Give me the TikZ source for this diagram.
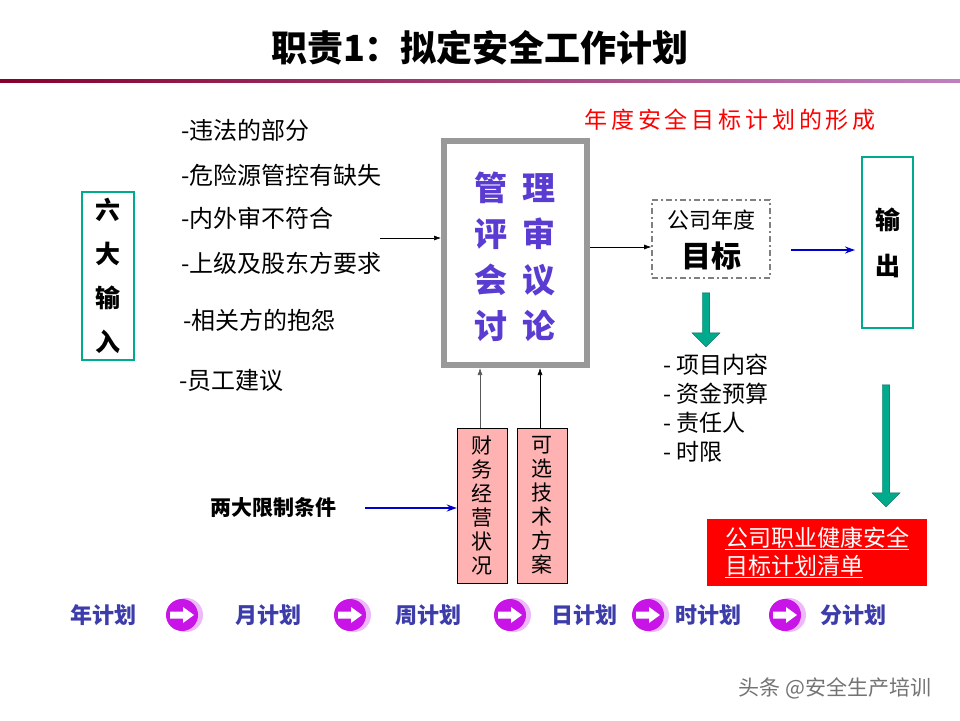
\documentclass[tikz,border=0pt]{standalone}
\usepackage{fontspec}
\setmainfont{Liberation Sans}
\newfontfamily\cjk{Noto Sans CJK SC}
\usetikzlibrary{arrows.meta,shapes.arrows}
\definecolor{teal1}{RGB}{0,170,140}
\definecolor{purp}{RGB}{90,60,210}
\definecolor{planblue}{RGB}{60,60,170}
\definecolor{mag}{RGB}{200,20,230}
\tikzset{
 item/.style={anchor=west,font=\cjk\fontsize{24}{26}\selectfont},
 big/.style={font=\cjk\bfseries\fontsize{33}{36}\selectfont,text=purp},
 plan/.style={font=\cjk\bfseries\fontsize{22}{24}\selectfont,text=planblue},
 thin/.style={-{Latex[length=7pt,width=5pt]},line width=0.6pt},
 bluearr/.style={-{Stealth[length=10pt,width=7pt]},draw=blue!80!black,line width=2pt},
}
\newcommand{\circarrow}[2]{%
 \fill[mag!30] (#1+4,#2) circle (17);
 \fill[mag] (#1,#2) circle (16);
 \fill[white] (#1-12,#2-3.5) -- (#1+1,#2-3.5) -- (#1+1,#2-8) -- (#1+12,#2) -- (#1+1,#2+8) -- (#1+1,#2+3.5) -- (#1-12,#2+3.5) -- cycle;}
\begin{document}
\begin{tikzpicture}[x=1pt,y=-1pt]
\useasboundingbox (0,0) rectangle (960,720);
\fill[white] (0,0) rectangle (960,720);
\node[font=\cjk\bfseries\fontsize{36}{38}\selectfont] (title) at (480,48) {职责1：拟定安全工作计划};
\shade[left color=purple!70!black,right color=violet!50] (0,79) rectangle (960,82);
% left box
\node[draw=teal1,line width=2pt,minimum width=52pt,minimum height=168pt,inner sep=0pt,font=\cjk\bfseries\fontsize{25}{44}\selectfont,align=center] (six) at (108,276) {六\\大\\输\\入};
\node[item] (i1) at (178,130) {-违法的部分};
\node[item] (i2) at (178,175) {-危险源管控有缺失};
\node[item] (i3) at (178,218) {-内外审不符合};
\node[item] (i4) at (178,263) {-上级及股东方要求};
\node[item] (i5) at (180,320) {-相关方的抱怨};
\node[item] (i6) at (176,380) {-员工建议};
\coordinate (inS) at (380,238);
% main box
\node[draw=gray!80,line width=6pt,minimum width=143pt,minimum height=224pt] (main) at (515.5,253) {};
\node[big] at (491,188) {管}; \node[big] at (539,188) {理};
\node[big] at (491,234) {评}; \node[big] at (539,234) {审};
\node[big] at (491,280) {会}; \node[big] at (539,280) {议};
\node[big] at (491,326) {讨}; \node[big] at (539,326) {论};
\draw[thin] (inS) -- (main.west |- inS);
% target
\node[draw=gray,dash pattern=on 6pt off 3pt on 2pt off 3pt,line width=1.6pt,minimum width=118pt,minimum height=78pt,inner sep=0pt] (goal) at (711,239) {};
\node[font=\cjk\fontsize{22}{24}\selectfont] (g1) at (711,220) {公司年度};
\node[font=\cjk\bfseries\fontsize{30}{32}\selectfont] (g2) at (711,256) {目标};
\draw[thin] (main.east |- 0,247) -- (goal.west |- 0,247);
\node[text=red,font=\cjk\fontsize{23}{25}\selectfont] (rt) at (730,120) {年\,度\,安\,全\,目\,标\,计\,划\,的\,形\,成};
\node[draw=teal1,line width=2pt,minimum width=51pt,minimum height=171pt,inner sep=0pt,font=\cjk\bfseries\fontsize{25}{46}\selectfont,align=center] (out) at (887.5,242.5) {输\\出};
\draw[bluearr] (goal.east |- 0,250) ++(20,0) -- ([xshift=-6pt]out.west |- 0,250);
\node[single arrow,draw=teal1!60!black,fill=teal1,rotate=-90,minimum height=54pt,minimum width=28pt,single arrow head extend=6pt,inner sep=2pt] (ga) at (706,318) {};
\node[anchor=west,font=\cjk\fontsize{23}{29}\selectfont,align=left] (list) at (660,408) {- 项目内容\\- 资金预算\\- 责任人\\- 时限};
\node[single arrow,draw=teal1!60!black,fill=teal1,rotate=-90,minimum height=122pt,minimum width=28pt,single arrow head extend=6pt,inner sep=2pt] (ga2) at (886,444) {};
\node[fill=red,minimum width=220pt,minimum height=67pt,text=white,font=\cjk\fontsize{23}{28}\selectfont,align=left] (red) at (817,552.5) {\underline{公司职业健康安全}\\\underline{目标计划清单}};
% limit boxes
\node[draw,fill=red!30,minimum width=50pt,minimum height=155pt,inner sep=0pt,font=\cjk\fontsize{21}{24}\selectfont,align=center] (f1) at (482,505.5) {财\\务\\经\\营\\状\\况};
\node[draw,fill=red!30,minimum width=50pt,minimum height=155pt,inner sep=0pt,font=\cjk\fontsize{21}{24}\selectfont,align=center] (f2) at (542,505.5) {可\\选\\技\\术\\方\\案};
\draw[thin,draw=gray!70!black] (f1.north -| 480,0) -- (480,368);
\draw[thin] (f2.north -| 540,0) -- (540,368);
\node[font=\cjk\bfseries\fontsize{21}{24}\selectfont] (two) at (273,508) {两大限制条件};
\draw[bluearr] (365,508) -- (f1.west |- 0,508);
% plans
\node[plan] (p1) at (103,615) {年计划};
\node[plan] (p2) at (268,615) {月计划};
\node[plan] (p3) at (428,615) {周计划};
\node[plan] (p4) at (584,615) {日计划};
\node[plan] (p5) at (708,615) {时计划};
\node[plan] (p6) at (853,615) {分计划};
\circarrow{182}{615}
\circarrow{350}{615}
\circarrow{510}{615}
\circarrow{648}{615}
\circarrow{785}{615}
\node[text=gray!90!black,font=\cjk\fontsize{21}{22}\selectfont] (wm) at (835,688) {头条 @安全生产培训};
\end{tikzpicture}
\end{document}
